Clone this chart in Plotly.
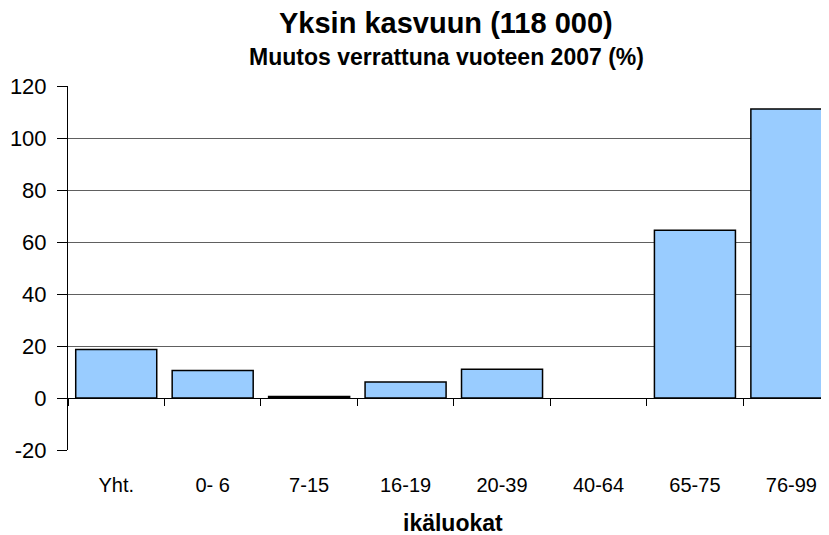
import plotly.graph_objects as go

categories = ["Yht.", "0- 6", "7-15", "16-19", "20-39", "40-64", "65-75", "76-99"]
values = [18.7, 10.6, 0.6, 6.2, 11.1, None, 64.5, 111.2]
y_tick_values = [-20, 0, 20, 40, 60, 80, 100, 120]
y_tick_labels = ["-20", "0", "20", "40", "60", "80", "100", "120"]
title = "Yksin kasvuun (118 000)"
subtitle = "Muutos verrattuna vuoteen 2007 (%)"
x_title = "ikäluokat"

font = "Liberation Sans, Arial, sans-serif"

# page geometry (the page body has an 8px margin)
BODY = 8
plot_left, plot_right, plot_top, plot_bot = 67.5, 829, 86, 450
fig_w, fig_h = 829 - BODY, 535 - BODY

fig = go.Figure(go.Bar(
    x=categories, y=values,
    marker=dict(color="#99CCFF", line=dict(color="black", width=1.5)),
    width=0.84,
))

y_min, y_max = y_tick_values[0], y_tick_values[-1]


def px_x(px):
    return (px - plot_left) / (plot_right - plot_left)


def px_y(py):
    return (plot_bot - py) / (plot_bot - plot_top)


fig.update_layout(
    width=fig_w, height=fig_h,
    margin=dict(l=plot_left - BODY, r=0, t=plot_top - BODY, b=fig_h - (plot_bot - BODY)),
    paper_bgcolor="white", plot_bgcolor="white",
    showlegend=False,
    font=dict(family=font, color="black"),
    xaxis=dict(
        type="category", range=[-0.5, 7.39],
        tickson="boundaries", ticks="outside", ticklen=7, tickcolor="black",
        showline=True, linecolor="black", linewidth=1,
        showgrid=False, anchor="free", position=(0 - y_min) / (y_max - y_min),
        tickfont=dict(size=20), ticklabelstandoff=69,
    ),
    yaxis=dict(
        range=[y_min, y_max], tickmode="array",
        tickvals=y_tick_values, ticktext=y_tick_labels,
        ticks="outside", ticklen=10, tickcolor="black",
        showline=True, linecolor="black", linewidth=1,
        showgrid=True, gridcolor="#606060", gridwidth=1,
        zeroline=False, tickfont=dict(size=22), ticklabelstandoff=6,
    ),
    annotations=[
        dict(text="<b>" + title + "</b>", x=px_x(446), y=px_y(23), xref="paper", yref="paper",
             xanchor="center", yanchor="middle", showarrow=False, font=dict(size=29)),
        dict(text="<b>" + subtitle + "</b>", x=px_x(446), y=px_y(57), xref="paper", yref="paper",
             xanchor="center", yanchor="middle", showarrow=False, font=dict(size=23)),
        dict(text="<b>" + x_title + "</b>", x=px_x(453), y=px_y(523), xref="paper", yref="paper",
             xanchor="center", yanchor="middle", showarrow=False, font=dict(size=23)),
    ],
)
fig.write_html("out.html")
